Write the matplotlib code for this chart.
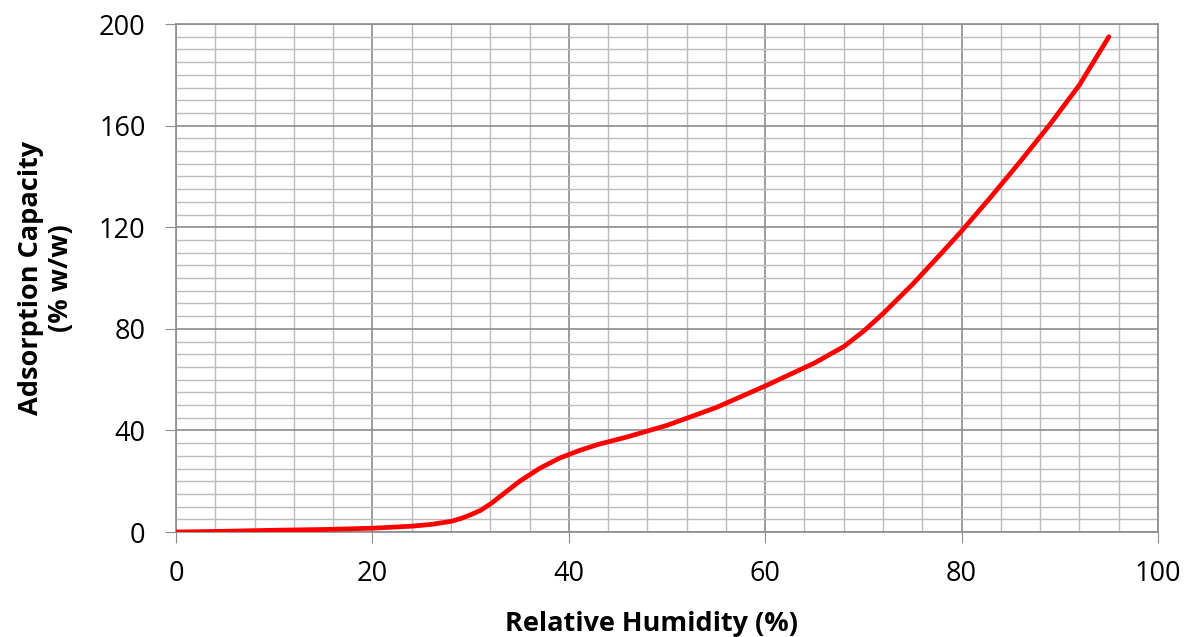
import matplotlib
matplotlib.use("Agg")
import matplotlib.pyplot as plt
from matplotlib.ticker import MultipleLocator

plt.rcParams['font.family'] = ['Open Sans', 'DejaVu Sans']

# values
humidity = [0, 5, 10, 15, 20, 24, 26, 28, 29, 30, 31, 32, 33, 35, 37, 39, 41, 43, 46,
            50, 55, 60, 65, 68, 70, 72, 75, 78, 80, 83, 86, 89, 92, 95]
capacity = [0, 0.3, 0.7, 1.0, 1.5, 2.3, 3.0, 4.2, 5.3, 6.8, 8.5, 11.0, 14.0, 20.0,
            25.0, 29.0, 32.0, 34.5, 37.5, 42.0, 49.0, 57.5, 66.5, 73.0, 79.0, 86.0,
            97.5, 110.0, 118.5, 132.0, 146.0, 160.5, 176.0, 195.0]

x_ticks = [0, 20, 40, 60, 80, 100]
y_ticks = [0, 40, 80, 120, 160, 200]

fig = plt.figure(figsize=(11.91, 6.37), dpi=100)
ax = fig.add_axes([0.1478, 0.1648, 0.8245, 0.7975])

ax.plot(humidity, capacity, color='#ff0000', linewidth=3.4, solid_capstyle='round',
        solid_joinstyle='round', zorder=3)

ax.set_xlim(0, 100)
ax.set_ylim(0, 200)
ax.set_xticks(x_ticks)
ax.set_yticks(y_ticks)
ax.xaxis.set_minor_locator(MultipleLocator(4))
ax.yaxis.set_minor_locator(MultipleLocator(5))

ax.grid(which='major', color='#8c8c8c', linewidth=1.2)
ax.grid(which='minor', color='#bcbcbc', linewidth=1.0)
ax.set_axisbelow(True)

for s in ax.spines.values():
    s.set_color('#8c8c8c')
    s.set_linewidth(1.2)

ax.tick_params(which='major', length=8, color='#8c8c8c', labelsize=19.5, pad=14)
ax.tick_params(which='minor', length=0)
ax.tick_params(axis='x', pad=12)

ax.set_xlabel('Relative Humidity (%)', fontsize=19.5, fontweight='bold', labelpad=14)
ax.xaxis.set_label_coords(0.484, -0.155)
ax.set_ylabel('Adsorption Capacity\n(% w/w)', fontsize=19.5, fontweight='bold', labelpad=18)

fig.savefig('out.png', dpi=100)
